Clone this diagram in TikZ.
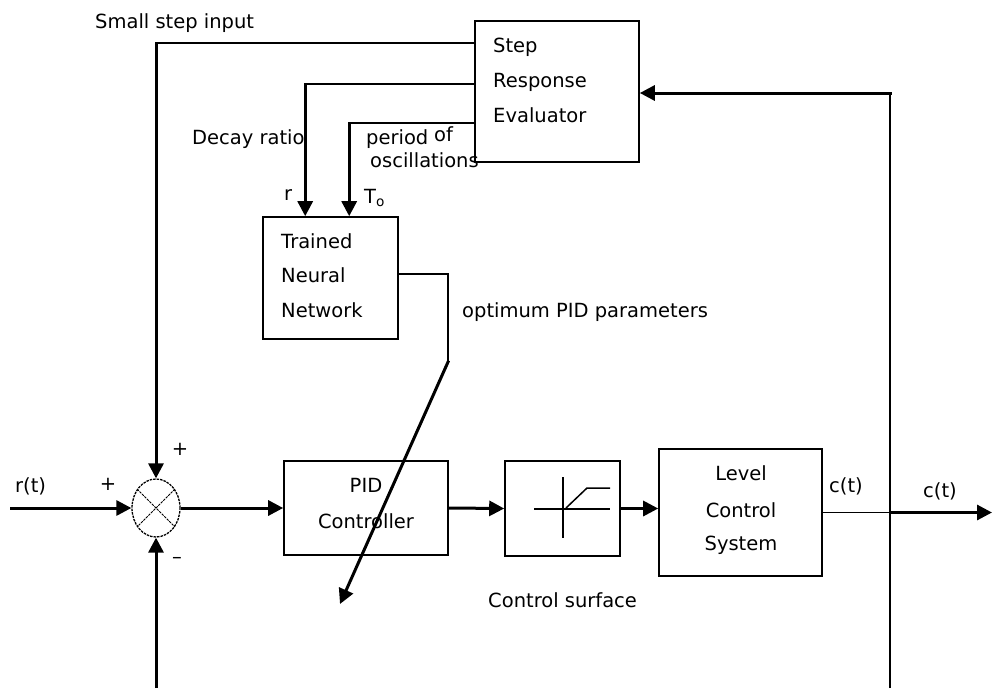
\documentclass[tikz,border=0pt]{standalone}
\usepackage{fontspec}
\setmainfont{DejaVu Sans}
\usetikzlibrary{arrows.meta,shapes.geometric}
\begin{document}
\begin{tikzpicture}[x=1pt,y=-1pt,
  box/.style={draw, rectangle, line width=1.6pt, inner sep=0pt},
  sig/.style={line width=3pt, -{Triangle[length=15pt,width=15pt]}},
  conn/.style={line width=2.2pt},
  thinl/.style={line width=1.8pt},
  lbl/.style={font=\fontsize{19.5}{24}\selectfont, inner sep=0pt, anchor=base west},
  clbl/.style={lbl, anchor=base},
  sym/.style={line width=1.5pt}]
\useasboundingbox (0,0) rectangle (992,688);
% blocks
\node[box, minimum width=164pt, minimum height=141pt] (sre) at (557,91.5) {};
\node[box, minimum width=135pt, minimum height=122pt] (nn) at (330.5,278) {};
\node[box, minimum width=164pt, minimum height=94pt] (pid) at (366,508) {};
\node[box, minimum width=115pt, minimum height=95pt] (cs) at (562.5,508.5) {};
\node[box, minimum width=163pt, minimum height=127pt] (lcs) at (740.5,512.5) {};
\node[draw, ellipse, line width=1.3pt, dash pattern=on 2.5pt off 1pt, minimum width=48pt, minimum height=58pt, inner sep=0pt] (sum) at (156,508) {};
\draw[line width=1pt, dash pattern=on 2.5pt off 1pt] (sum.135) -- (sum.-45);
\draw[line width=1pt, dash pattern=on 2.5pt off 1pt] (sum.45) -- (sum.-135);
% control surface symbol
\draw[sym] (534,509) -- (610,509);
\draw[sym] (563,477) -- (563,538);
\draw[sym] (566,508) -- (587,488) -- (610,488);
% texts
\node[lbl] (tss) at (95,28) {Small step input};
\node[lbl] (tstep) at (493,52) {Step};
\node[lbl] (tresp) at (493,87) {Response};
\node[lbl] (teval) at (493,122) {Evaluator};
\node[lbl] (tdecay) at (192,144) {Decay ratio};
\node[lbl] (tper) at (366,144) {period};
\node[lbl] (tof) at (434,141) {of};
\node[lbl] (tosc) at (370,167) {oscillations};
\node[lbl] (tr) at (284,200) {r};
\node[lbl] (tto) at (364,203) {T\textsubscript{o}};
\node[lbl] (ttr) at (281,248) {Trained};
\node[lbl] (tneu) at (281,282) {Neural};
\node[lbl] (tnet) at (281,317) {Network};
\node[lbl] (topt) at (462,317) {optimum PID parameters};
\node[lbl] (trt) at (15,492) {r(t)};
\node[clbl] (tpl) at (108,490) {+};
\node[clbl] (tpt) at (180,455) {+};
\node[clbl] (tmi) at (177,563) {–};
\node[clbl] (tpid) at (366,492) {PID};
\node[clbl] (tctrl) at (366,528) {Controller};
\node[clbl] (tlev) at (741,480) {Level};
\node[clbl] (tcon) at (741,517) {Control};
\node[clbl] (tsys) at (741,550) {System};
\node[lbl] (tc1) at (829,492) {c(t)};
\node[lbl] (tc2) at (923,497) {c(t)};
\node[lbl] (tcs) at (488,607) {Control surface};
% connectors from evaluator
\coordinate (ssout) at ([yshift=48.5pt]sre.west);
\coordinate (sscor) at (sum.north |- ssout);
\draw[conn] (ssout) -- (sscor);
\draw[sig, line cap=rect] (sscor) -- (sum.north);
\coordinate (drout) at ([yshift=7.5pt]sre.west);
\coordinate (rinp) at ([xshift=43pt]nn.north west);
\coordinate (drcor) at (rinp |- drout);
\draw[conn] (drout) -- (drcor);
\draw[sig, line cap=rect] (drcor) -- (rinp);
\coordinate (poout) at ([yshift=-31.5pt]sre.west);
\coordinate (tinp) at ([xshift=87pt]nn.north west);
\coordinate (pocor) at (tinp |- poout);
\draw[conn] (poout) -- (pocor);
\draw[sig, line cap=rect] (pocor) -- (tinp);
% feedback
\coordinate (fbx) at (890,688);
\coordinate (fbtop) at ([yshift=-1.5pt]fbx |- sre.east);
\draw[thinl] (fbx) -- (fbtop);
\draw[sig, line cap=rect] (fbtop) -- (fbtop -| sre.east);
\coordinate (tap) at (fbx |- lcs.east);
\coordinate (cout) at (992,512.5);
\draw[thinl] (lcs.east) -- (tap);
\draw[sig] (tap) -- (cout);
\coordinate (fbl) at (sum.south |- fbx);
\draw[sig] (fbl) -- (sum.south);
% forward path
\coordinate (rt) at (10,508);
\draw[sig] (rt) -- (sum.west);
\draw[sig] (sum.east) -- (pid.west);
\draw[sig] (pid.east) -- (cs.west);
\draw[sig] (cs.east) -- (cs.east -| lcs.west);
% neural network output
\coordinate (nnout) at ([yshift=4pt]nn.east);
\coordinate (nnc1) at (448,274);
\coordinate (nnc2) at (448,362);
\coordinate (tip) at (340,604);
\draw[thinl] (nnout) -- (nnc1) -- (nnc2);
\draw[sig, line cap=rect] (nnc2) -- (tip);
\end{tikzpicture}
\end{document}
